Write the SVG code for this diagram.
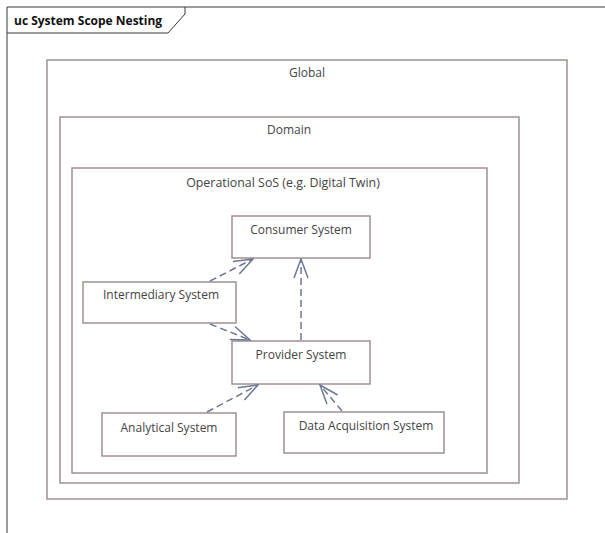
<svg xmlns="http://www.w3.org/2000/svg" width="605" height="533" viewBox="0 0 605 533">
  <defs>
    <style>
      .frame { fill: none; stroke: #3a3a3a; stroke-width: 1; }
      .box { fill: #ffffff; stroke: #a09090; stroke-width: 1.5; }
      .lbl { font-family: "Open Sans", "Noto Sans", sans-serif; font-size: 12px; fill: #444444; text-anchor: middle; }
      .wide { font-size: 12.4px; }
      .title { font-family: "Open Sans", "Noto Sans", sans-serif; font-size: 12px; font-weight: bold; fill: #111111; }
      .dep { fill: none; stroke: #6d7896; stroke-width: 1.5; stroke-dasharray: 7 4; marker-end: url(#open); }
    </style>
    <marker id="open" viewBox="0 0 21 16" refX="20" refY="8" markerWidth="21" markerHeight="16" markerUnits="userSpaceOnUse" orient="auto">
      <path d="M1,1 L20,8 L1,15" fill="none" stroke="#6d7896" stroke-width="1.5"/>
    </marker>
  </defs>

  <rect width="605" height="533" fill="#ffffff"/>

  <!-- diagram frame with name tab -->
  <g id="frame">
    <path class="frame" d="M7,533 V7 H605"/>
    <path class="frame" d="M7,33 H168 L185,14 V7"/>
    <text class="title" x="14" y="25">uc System Scope Nesting</text>
  </g>

  <!-- nested scope boundaries -->
  <g id="global">
    <rect class="box" x="47" y="60" width="520" height="439"/>
    <text class="lbl" x="307" y="77">Global</text>
  </g>
  <g id="domain">
    <rect class="box" x="60" y="117" width="459" height="366"/>
    <text class="lbl" x="289" y="134">Domain</text>
  </g>
  <g id="operational-sos">
    <rect class="box" x="72" y="168" width="415" height="305"/>
    <text class="lbl wide" x="283" y="187">Operational SoS (e.g. Digital Twin)</text>
  </g>

  <!-- systems -->
  <g id="consumer-system">
    <rect class="box" x="232" y="216" width="138" height="42"/>
    <text class="lbl" x="301" y="234">Consumer System</text>
  </g>
  <g id="intermediary-system">
    <rect class="box" x="83" y="282" width="153" height="41"/>
    <text class="lbl" x="161" y="299">Intermediary System</text>
  </g>
  <g id="provider-system">
    <rect class="box" x="232" y="341" width="138" height="43"/>
    <text class="lbl" x="301" y="359">Provider System</text>
  </g>
  <g id="analytical-system">
    <rect class="box" x="102" y="413" width="134" height="43"/>
    <text class="lbl" x="169" y="432">Analytical System</text>
  </g>
  <g id="data-acquisition-system">
    <rect class="box" x="284" y="412" width="160" height="41"/>
    <text class="lbl" x="366" y="430">Data Acquisition System</text>
  </g>

  <!-- dependencies -->
  <g id="connectors">
    <line class="dep" x1="210" y1="281" x2="253" y2="259"/>
    <line class="dep" x1="210" y1="324" x2="250" y2="340"/>
    <line class="dep" x1="301" y1="340" x2="301" y2="259"/>
    <line class="dep" x1="207" y1="412" x2="258" y2="385"/>
    <line class="dep" x1="342" y1="411" x2="320" y2="385"/>
  </g>
</svg>
